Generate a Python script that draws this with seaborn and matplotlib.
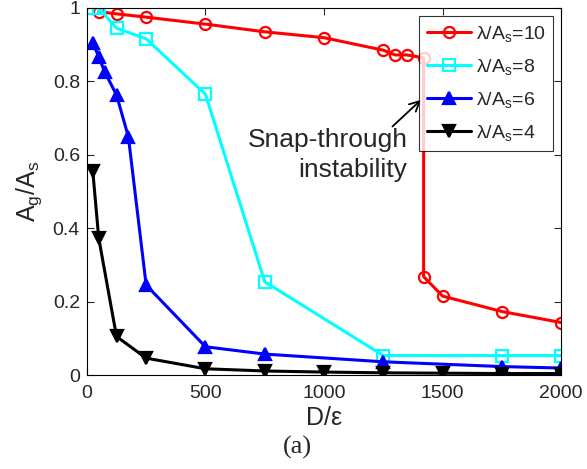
import matplotlib
matplotlib.use("Agg")
import matplotlib.pyplot as plt
import seaborn as sns
import numpy as np

# Data
x10 = [50, 125, 250, 500, 750, 1000, 1250, 1300, 1350, 1420, 1420, 1500, 1750, 2000]
y10 = [0.99, 0.984, 0.975, 0.956, 0.935, 0.919, 0.885, 0.872, 0.872, 0.864, 0.268, 0.215, 0.173, 0.143]
x8 = [25, 50, 125, 250, 500, 750, 1250, 1750, 2000]
y8 = [1.0, 1.0, 0.945, 0.916, 0.765, 0.254, 0.053, 0.053, 0.053]
x6 = [25, 50, 75, 125, 175, 250, 500, 750, 1250, 1750, 2000]
y6 = [0.905, 0.867, 0.826, 0.763, 0.649, 0.245, 0.077, 0.057, 0.036, 0.023, 0.019]
x4 = [25, 50, 125, 250, 500, 750, 1000, 1250, 1500, 1750, 2000]
y4 = [0.555, 0.373, 0.105, 0.046, 0.017, 0.011, 0.008, 0.006, 0.005, 0.004, 0.004]
labels = [r'λ/A$_\mathregular{s}$=10', r'λ/A$_\mathregular{s}$=8',
          r'λ/A$_\mathregular{s}$=6', r'λ/A$_\mathregular{s}$=4']
xticks = [0, 500, 1000, 1500, 2000]
yticks = [0, 0.2, 0.4, 0.6, 0.8, 1.0]
yticklabels = ['0', '0.2', '0.4', '0.6', '0.8', '1']

sns.set_style('ticks')
plt.rcParams['font.family'] = ['Liberation Sans', 'DejaVu Sans']
plt.rcParams['mathtext.default'] = 'regular'
plt.rcParams['font.size'] = 14

fig = plt.figure(figsize=(5.87, 4.69), dpi=100)
ax = fig.add_axes([0.148, 0.2004, 0.808, 0.7826])

common = dict(ax=ax, estimator=None, sort=False, linewidth=2.2, markersize=8, mew=1.6)
sns.lineplot(x=x10, y=y10, color='red', marker='o', markerfacecolor='none',
             markeredgecolor='red', label=labels[0], **common)
sns.lineplot(x=x8, y=y8, color='cyan', marker='s', markerfacecolor='none',
             markeredgecolor='cyan', label=labels[1], **common)
sns.lineplot(x=x6, y=y6, color='blue', marker='^', markerfacecolor='blue',
             markeredgecolor='blue', label=labels[2], **common)
sns.lineplot(x=x4, y=y4, color='black', marker='v', markerfacecolor='black',
             markeredgecolor='black', label=labels[3], **common)

ax.set_xlim(0, 2000)
ax.set_ylim(0, 1)
ax.set_xticks(xticks)
ax.set_yticks(yticks)
ax.set_yticklabels(yticklabels)
ax.tick_params(direction='in', top=True, right=True, length=5, width=0.8, labelsize=14)
ax.tick_params(axis='x', pad=7)
ax.tick_params(axis='y', pad=5)
for s in ax.spines.values():
    s.set_visible(True)
    s.set_linewidth(0.8)
    s.set_color('black')

ax.set_xlabel('D/ε', fontsize=18, labelpad=3)
ax.set_ylabel(r'A$_\mathregular{g}$/A$_\mathregular{s}$', fontsize=18, labelpad=6)

leg = ax.legend(loc='upper right', fontsize=14, frameon=True, fancybox=False,
                edgecolor='black', handlelength=2.25, borderaxespad=0.4,
                labelspacing=0.68, handletextpad=0.25, borderpad=0.4)
leg.get_frame().set_linewidth(0.8)

ax.annotate('', xy=(1418, 0.755), xytext=(1280, 0.672),
            arrowprops=dict(arrowstyle='->', color='black', lw=1.3, mutation_scale=18))
ax.text(1352, 0.60, 'Snap-through\ninstability', ha='right', va='center',
        fontsize=19, linespacing=1.3)

fig.text(0.506, 0.045, '(a)', ha='center', va='center', fontsize=19,
         family=['Liberation Serif', 'DejaVu Serif'])

fig.savefig('out.png', dpi=100)
